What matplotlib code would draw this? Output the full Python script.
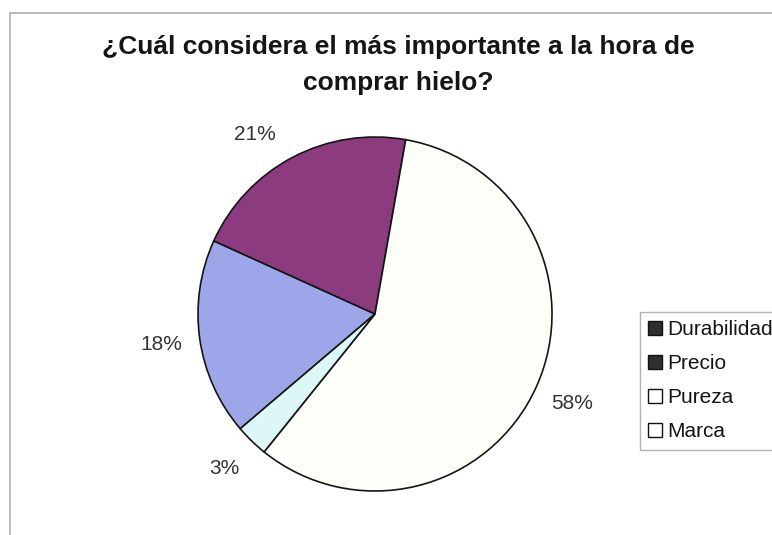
import numpy as np
import matplotlib.pyplot as plt
from matplotlib.patches import Patch, Rectangle

# Encuesta: factor más importante al comprar hielo
categorias = ["Durabilidad", "Precio", "Pureza", "Marca"]
porcentajes = [18, 21, 58, 3]
colores = ["#9DA6E8", "#8C3B7F", "#FFFFFA", "#DDF7F7"]
colores_leyenda = ["#2E2E2E", "#2E2E2E", "#FFFFFF", "#FFFFFF"]

W, H = 772, 535
fig = plt.figure(figsize=(W / 100, H / 100), dpi=100)
fig.patch.set_facecolor("white")

# marco del área del gráfico
fig.patches.append(Rectangle((10 / W, -0.05), 1.0, (H - 13) / H + 0.05,
                             transform=fig.transFigure, fill=False,
                             edgecolor="#B0B0B0", linewidth=1.2))

titulo = dict(ha="center", va="center", fontsize=19, fontweight="bold",
              family="Liberation Sans", color="#151515")
fig.text(398 / W, 1 - 47 / H, "¿Cuál considera el más importante a la hora de", **titulo)
fig.text(398 / W, 1 - 83 / H, "comprar hielo?", **titulo)

R = 177
cx, cy = 375, H - 314
lim = 1.3
side = 2 * lim * R
ax = fig.add_axes([(cx - side / 2) / W, (cy - side / 2) / H, side / W, side / H])

wedges, textos, pcts = ax.pie(
    porcentajes, colors=colores, startangle=220.4, counterclock=False,
    autopct="%1.0f%%", pctdistance=1.22,
    wedgeprops=dict(edgecolor="#151515", linewidth=1.2),
    textprops=dict(fontsize=15, family="Liberation Sans", color="#333333"),
)

# la etiqueta de Precio queda algo girada hacia la izquierda
x, y = pcts[1].get_position()
giro = np.deg2rad(6)
pcts[1].set_position((x * np.cos(giro) - y * np.sin(giro),
                      x * np.sin(giro) + y * np.cos(giro)))

ax.set_xlim(-lim, lim)
ax.set_ylim(-lim, lim)
ax.set_aspect("equal")
ax.axis("off")

handles = [Patch(facecolor=c, edgecolor="#111111", linewidth=1.0) for c in colores_leyenda]
leg = fig.legend(handles, categorias, loc="upper left",
                 bbox_to_anchor=(640 / W, 1 - 312 / H),
                 prop=dict(family="Liberation Sans", size=15),
                 frameon=True, fancybox=False, edgecolor="#A0A0A0",
                 handlelength=0.65, handleheight=0.65, handletextpad=0.25,
                 labelspacing=0.72, borderpad=0.4, borderaxespad=0)
leg.get_frame().set_linewidth(1.0)
for t in leg.get_texts():
    t.set_color("#151515")

fig.savefig("out.png", dpi=100)
